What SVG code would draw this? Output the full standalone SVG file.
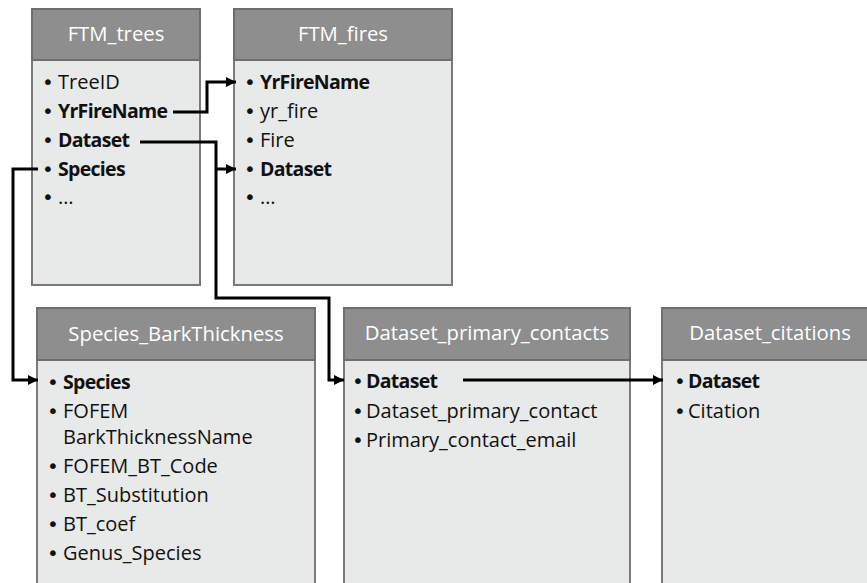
<svg xmlns="http://www.w3.org/2000/svg" width="867" height="583" viewBox="0 0 867 583">
<style>
.body{fill:#e8e9e9;stroke:#7a7a7a;stroke-width:2}
.head{fill:#8e8e8e;stroke:#6e6e6e;stroke-width:2}
.ht{font-family:"Open Sans","Liberation Sans",sans-serif;font-size:20.3px;fill:#ffffff;text-anchor:middle}
.t{font-family:"Open Sans","Liberation Sans",sans-serif;font-size:20px;fill:#111111}
.d{font-family:"DejaVu Sans",sans-serif;font-size:20px}
.b{font-weight:bold;font-size:19.5px;letter-spacing:-0.7px}
.c{fill:none;stroke:#000;stroke-width:3;stroke-linejoin:miter}
</style>
<defs>
<marker id="ah" viewBox="0 0 10 10" refX="10" refY="5" markerWidth="10" markerHeight="10" markerUnits="userSpaceOnUse" orient="auto">
<path d="M0,0 L10,5 L0,10 z" fill="#000"/>
</marker>
</defs>
<rect width="867" height="583" fill="#ffffff"/>

<g id="FTM_trees">
<rect class="body" x="32" y="9" width="168" height="276"/>
<rect class="head" x="32" y="9" width="168" height="51"/>
<text class="ht" x="116" y="41">FTM_trees</text>
<text class="t" x="42" y="89"><tspan class="d">•</tspan><tspan x="58">TreeID</tspan></text>
<text class="t" x="42" y="118"><tspan class="d">•</tspan><tspan x="58" class="b">YrFireName</tspan></text>
<text class="t" x="42" y="147"><tspan class="d">•</tspan><tspan x="58" class="b">Dataset</tspan></text>
<text class="t" x="42" y="176"><tspan class="d">•</tspan><tspan x="58" class="b">Species</tspan></text>
<text class="t" x="42" y="204"><tspan class="d">•</tspan><tspan x="58">…</tspan></text>
</g>

<g id="FTM_fires">
<rect class="body" x="234" y="9" width="218" height="276"/>
<rect class="head" x="234" y="9" width="218" height="51"/>
<text class="ht" x="343" y="41">FTM_fires</text>
<text class="t" x="244" y="89"><tspan class="d">•</tspan><tspan x="260" class="b">YrFireName</tspan></text>
<text class="t" x="244" y="118"><tspan class="d">•</tspan><tspan x="260">yr_fire</tspan></text>
<text class="t" x="244" y="147"><tspan class="d">•</tspan><tspan x="260">Fire</tspan></text>
<text class="t" x="244" y="176"><tspan class="d">•</tspan><tspan x="260" class="b">Dataset</tspan></text>
<text class="t" x="244" y="204"><tspan class="d">•</tspan><tspan x="260">…</tspan></text>
</g>

<g id="Species_BarkThickness">
<rect class="body" x="37" y="308" width="278" height="290"/>
<rect class="head" x="37" y="308" width="278" height="52"/>
<text class="ht" x="176" y="341">Species_BarkThickness</text>
<text class="t" x="47" y="389"><tspan class="d">•</tspan><tspan x="63" class="b">Species</tspan></text>
<text class="t" x="47" y="418"><tspan class="d">•</tspan><tspan x="63">FOFEM</tspan></text>
<text class="t" x="63" y="444">BarkThicknessName</text>
<text class="t" x="47" y="473"><tspan class="d">•</tspan><tspan x="63">FOFEM_BT_Code</tspan></text>
<text class="t" x="47" y="502"><tspan class="d">•</tspan><tspan x="63">BT_Substitution</tspan></text>
<text class="t" x="47" y="531"><tspan class="d">•</tspan><tspan x="63">BT_coef</tspan></text>
<text class="t" x="47" y="560"><tspan class="d">•</tspan><tspan x="63">Genus_Species</tspan></text>
</g>

<g id="Dataset_primary_contacts">
<rect class="body" x="344" y="308" width="286" height="290"/>
<rect class="head" x="344" y="308" width="286" height="52"/>
<text class="ht" x="487" y="340">Dataset_primary_contacts</text>
<text class="t" x="352" y="388"><tspan class="d">•</tspan><tspan x="366" class="b">Dataset</tspan></text>
<text class="t" x="352" y="418"><tspan class="d">•</tspan><tspan x="366">Dataset_primary_contact</tspan></text>
<text class="t" x="352" y="447"><tspan class="d">•</tspan><tspan x="366">Primary_contact_email</tspan></text>
</g>

<g id="Dataset_citations">
<rect class="body" x="662" y="308" width="216" height="290"/>
<rect class="head" x="662" y="308" width="216" height="52"/>
<text class="ht" x="770" y="340">Dataset_citations</text>
<text class="t" x="674" y="388"><tspan class="d">•</tspan><tspan x="688" class="b">Dataset</tspan></text>
<text class="t" x="674" y="418"><tspan class="d">•</tspan><tspan x="688">Citation</tspan></text>
</g>

<g id="connectors">
<path class="c" d="M173,112 H207 V82 H236" marker-end="url(#ah)"/>
<path class="c" d="M140,142 H216 V298 H329 V380 H344" marker-end="url(#ah)"/>
<path class="c" d="M216,169 H236" marker-end="url(#ah)"/>
<path class="c" d="M38,169 H13 V380 H38" marker-end="url(#ah)"/>
<path class="c" d="M463,380 H663" marker-end="url(#ah)"/>
</g>
</svg>
